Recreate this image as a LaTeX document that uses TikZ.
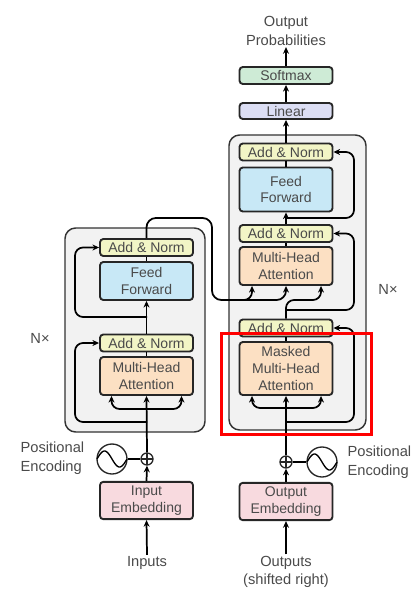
\documentclass[tikz,border=0pt]{standalone}
\usepackage{fontspec}
\setmainfont{Liberation Sans}
\usetikzlibrary{arrows.meta,calc}
\definecolor{txt}{HTML}{4A4A4A}
\definecolor{anfill}{HTML}{F2F5C6}
\definecolor{fffill}{HTML}{C8E8F6}
\definecolor{mhafill}{HTML}{FCE0C3}
\definecolor{linfill}{HTML}{DCDEF4}
\definecolor{smfill}{HTML}{CEEBD6}
\definecolor{embfill}{HTML}{F8DADF}
\definecolor{bigfill}{HTML}{F2F2F2}
\begin{document}
\begin{tikzpicture}[x=0.75pt,y=-0.75pt,
  blk/.style={draw=black!85, line width=1.4pt, rounded corners=2.5pt, minimum width=69.75pt,
    text=txt, font=\fontsize{10.5}{12.5}\selectfont, align=center, inner sep=0pt},
  addnorm/.style={blk, fill=anfill, minimum height=12.75pt},
  ffbox/.style={blk, fill=fffill, minimum height=28.5pt},
  mhabox/.style={blk, fill=mhafill, minimum height=28.5pt},
  embbox/.style={blk, fill=embfill, minimum height=28pt},
  linbox/.style={blk, fill=linfill, minimum height=12pt},
  smbox/.style={blk, fill=smfill, minimum height=12.75pt},
  bigbox/.style={draw=black!80, line width=1.1pt, fill=bigfill, rounded corners=8pt, inner sep=0pt},
  lbl/.style={text=txt, font=\fontsize{11}{14}\selectfont, align=center, inner sep=1pt},
  plusc/.style={circle, draw=black!85, line width=1pt, minimum size=9pt, inner sep=0pt, fill=white,
    path picture={\draw[line width=0.8pt] (path picture bounding box.north) -- (path picture bounding box.south)
      (path picture bounding box.west) -- (path picture bounding box.east);}},
  pec/.style={circle, draw=black!85, line width=1pt, minimum size=22.5pt, inner sep=0pt, fill=white},
  conn/.style={draw=black, line width=1.3pt},
  arr/.style={conn, -{Stealth[length=5pt,width=4.5pt]}},
  rc/.style={rounded corners=6pt}
]
\useasboundingbox (0,0) rectangle (413,599);

% big boxes
\node[bigbox, minimum width=105pt, minimum height=153pt] (encbox) at (135,330) {};
\node[bigbox, minimum width=102.75pt, minimum height=221.25pt] (decbox) at (297.5,282.5) {};

% encoder nodes
\node[addnorm] (encAN2) at (146.5,247.5) {Add \& Norm};
\node[ffbox] (encFF) at (146.5,281) {Feed\\Forward};
\node[addnorm] (encAN1) at (146.5,343) {Add \& Norm};
\node[mhabox] (encMHA) at (146.5,376) {Multi-Head\\Attention};
\node[plusc] (encPlus) at (147,459) {};
\node[pec] (encPE) at (112,459) {};
\node[embbox] (encEmb) at (146.5,500.5) {Input\\Embedding};
\node[lbl] (inputs) at (147,563) {Inputs};
\node[lbl, align=left, anchor=west] (encPEl) at (19,458) {Positional\\Encoding};
\node[lbl] (encN) at (40,338) {N×};

% decoder nodes
\node[addnorm] (decAN3) at (286,152) {Add \& Norm};
\node[ffbox, minimum height=33pt] (decFF) at (286,189.5) {Feed\\Forward};
\node[addnorm] (decAN2) at (286,233.5) {Add \& Norm};
\node[mhabox] (decMHA) at (286,266) {Multi-Head\\Attention};
\node[addnorm] (decAN1) at (286,328) {Add \& Norm};
\node[mhabox, minimum height=39.75pt] (decMMHA) at (286,368.5) {Masked\\Multi-Head\\Attention};
\node[plusc] (decPlus) at (286,462) {};
\node[pec] (decPE) at (322,462) {};
\node[embbox] (decEmb) at (286,501.5) {Output\\Embedding};
\node[lbl] (outputs) at (286,572) {Outputs\\(shifted right)};
\node[lbl, align=left, anchor=west] (decPEl) at (346,462) {Positional\\Encoding};
\node[lbl] (decN) at (388,289) {N×};
\node[linbox] (linear) at (286,111) {Linear};
\node[smbox] (softmax) at (286,75.5) {Softmax};
\node[lbl] (outprob) at (286,31) {Output\\Probabilities};

% sine waves
\draw[line width=1pt] plot[domain=-1:1, samples=40, smooth] ({112+15*\x},{459-8*sin(180*(\x+1))});
\draw[line width=1pt] plot[domain=-1:1, samples=40, smooth] ({322+15*\x},{462-8*sin(180*(\x+1))});

% encoder connectors
\draw[arr] (inputs.north) -- (encEmb.south);
\draw[arr] (encEmb.north) -- (encPlus.south);
\draw[conn] (encPE.east) -- (encPlus.west);
\draw[arr] (encPlus.north) -- (encMHA.south);
\coordinate (encS) at (147,409);
\draw[arr, rc] (encS) -| ($(encMHA.south)+(-35,0)$);
\draw[arr, rc] (encS) -| ($(encMHA.south)+(35,0)$);
\coordinate (encR1) at (147,422);
\draw[arr, rc] (encR1) -- (75,422) |- (encAN1.west);
\draw[conn] (encMHA.north) -- (encAN1.south);
\draw[arr] (encAN1.north) -- (encFF.south);
\coordinate (encR2) at (147,317);
\draw[arr, rc] (encR2) -- (75,317) |- (encAN2.west);
\draw[conn] (encFF.north) -- (encAN2.south);

% encoder output to decoder
\draw[arr, rounded corners=7pt] (encAN2.north) |- (212,218) |- (286,300) -- (decMHA.south);
\draw[arr, rc] (238,300) -| ($(decMHA.south)+(-34,0)$);

% decoder connectors
\draw[arr] (outputs.north) -- (decEmb.south);
\draw[arr] (decEmb.north) -- (decPlus.south);
\draw[conn] (decPlus.east) -- (decPE.west);
\draw[arr] (decPlus.north) -- (decMMHA.south);
\coordinate (decS) at (286,408);
\draw[arr, rc] (decS) -| ($(decMMHA.south)+(-34,0)$);
\draw[arr, rc] (decS) -| ($(decMMHA.south)+(35,0)$);
\coordinate (decR1) at (286,422);
\draw[arr, rc] (decR1) -- (354,422) |- (decAN1.east);
\draw[conn] (decMMHA.north) -- (decAN1.south);
\draw[arr, rc] (decAN1.north) |- (321,300) -- ($(decMHA.south)+(35,0)$);
\coordinate (decR2) at (286,310);
\draw[arr, rc] (decR2) -- (354,310) |- (decAN2.east);
\draw[conn] (decMHA.north) -- (decAN2.south);
\draw[arr] (decAN2.north) -- (decFF.south);
\coordinate (decR3) at (286,218);
\draw[arr, rc] (decR3) -- (354,218) |- (decAN3.east);
\draw[conn] (decFF.north) -- (decAN3.south);
\draw[arr] (decAN3.north) -- (linear.south);
\draw[arr] (linear.north) -- (softmax.south);
\draw[arr] (softmax.north) -- (outprob.south);

% highlight
\draw[red, line width=2.25pt] (221,333) rectangle (371,434);
\end{tikzpicture}
\end{document}
